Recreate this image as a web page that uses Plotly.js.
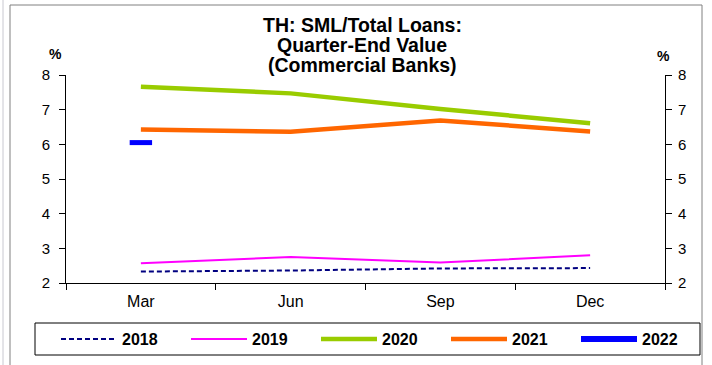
<!DOCTYPE html>
<html><head><meta charset="utf-8">
<script src="https://cdn.plot.ly/plotly-3.0.1.min.js"></script>
<style>html,body{margin:0;padding:0;background:#fff;}#chart{width:712px;height:365px;}</style>
</head><body><div id="chart"></div>
<script>
const months = ["Mar", "Jun", "Sep", "Dec"];
const v2018 = [2.33, 2.36, 2.42, 2.43];
const v2019 = [2.57, 2.75, 2.59, 2.80];
const v2020 = [7.66, 7.47, 7.02, 6.61];
const v2021 = [6.43, 6.36, 6.69, 6.37];
const v2022 = [6.05];
const yTicks = [2, 3, 4, 5, 6, 7, 8];
const titleLines = ["TH: SML/Total Loans:", "Quarter-End Value", "(Commercial Banks)"];

const F = "Liberation Sans, Arial, sans-serif";
// plot area in pixels: x 66..665, y 75..283
const px = x => (x - 66) / 599;
const py = y => (283 - y) / 208;

const traces = [
  {x: months, y: v2018, name: "2018", mode: "lines", line: {color: "#000080", width: 2, dash: "5px,3px"}},
  {x: months, y: v2019, name: "2019", mode: "lines", line: {color: "#FF00FF", width: 2}},
  {x: months, y: v2020, name: "2020", mode: "lines", line: {color: "#99CC00", width: 4.5}},
  {x: months, y: v2021, name: "2021", mode: "lines", line: {color: "#FF6600", width: 4.5}},
  {x: months.slice(0, v2022.length), y: v2022, name: "2022", mode: "lines+markers",
   line: {color: "#0000FF", width: 6},
   marker: {symbol: "line-ew", size: 16, color: "#0000FF", line: {color: "#0000FF", width: 5}}},
  {x: months, y: v2018, yaxis: "y2", mode: "lines", showlegend: false, hoverinfo: "skip", line: {width: 0}, opacity: 0}
];

const yax = {range: [2, 8], tickvals: yTicks, ticks: "outside", ticklen: 6, tickcolor: "#000",
  showline: true, linecolor: "#000", linewidth: 1, showgrid: false, zeroline: false,
  tickfont: {family: F, size: 15, color: "#000"}, fixedrange: true};

const annotations = titleLines.map((t, i) => ({
  text: "<b>" + t + "</b>", xref: "paper", yref: "paper", x: px(362), y: py(25 + 20 * i),
  xanchor: "center", yanchor: "middle", showarrow: false,
  font: {family: F, size: 19.5, color: "#000"}
}));
annotations.push(
  {text: "<b>%</b>", xref: "paper", yref: "paper", x: px(55), y: py(54), showarrow: false,
   xanchor: "center", yanchor: "middle", font: {family: F, size: 14, color: "#000"}},
  {text: "<b>%</b>", xref: "paper", yref: "paper", x: px(663), y: py(56), showarrow: false,
   xanchor: "center", yanchor: "middle", font: {family: F, size: 14, color: "#000"}}
);

const layout = {
  width: 712, height: 365,
  margin: {l: 66, r: 47, t: 75, b: 82, autoexpand: false},
  paper_bgcolor: "#fff", plot_bgcolor: "#fff",
  showlegend: true,
  xaxis: {type: "category", categoryarray: months, tickson: "boundaries", ticks: "outside", ticklen: 6,
    tickcolor: "#000", showline: true, linecolor: "#000", showgrid: false, ticklabelstandoff: 4,
    tickfont: {family: F, size: 16, color: "#000"}, range: [-0.5, 3.5]},
  yaxis: Object.assign({}, yax, {side: "left", ticklabelstandoff: 6}),
  yaxis2: Object.assign({}, yax, {side: "right", overlaying: "y", ticklabelstandoff: 3}),
  legend: {orientation: "h", x: px(56), xanchor: "left", y: py(339), yanchor: "middle",
    borderwidth: 0, itemwidth: 56, entrywidth: 59, entrywidthmode: "pixels",
    bgcolor: "rgba(0,0,0,0)",
    font: {family: F, size: 16, color: "#000", weight: "bold"}, traceorder: "normal", itemclick: false},
  annotations: annotations,
  shapes: [
    {type: "rect", xref: "paper", yref: "paper", x0: px(35), x1: px(700), y0: py(355), y1: py(323),
     line: {color: "#000", width: 1}},
    {type: "rect", xref: "paper", yref: "paper", x0: px(10), x1: px(702), y0: py(400), y1: py(5),
     line: {color: "#808080", width: 1}},
    {type: "line", xref: "paper", yref: "paper", x0: px(3), x1: px(3), y0: py(400), y1: py(-10),
     line: {color: "#c8c8d0", width: 1}}
  ]
};
Plotly.newPlot("chart", traces, layout, {displayModeBar: false, staticPlot: true});
</script></body></html>
